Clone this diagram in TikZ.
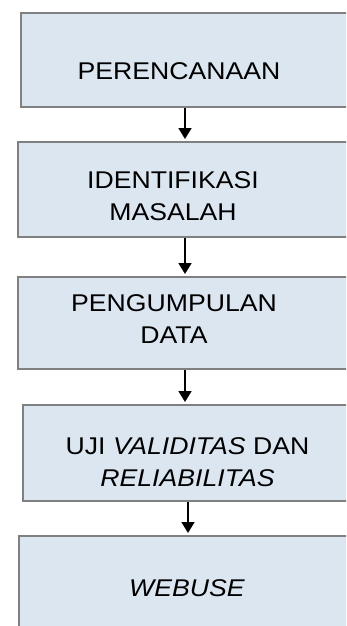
\documentclass[tikz,border=0pt]{standalone}
\usepackage{fontspec}
\setsansfont[FakeStretch=1.1]{Liberation Sans}
\usetikzlibrary{arrows.meta}
\definecolor{boxfill}{HTML}{DCE6F1}
\definecolor{boxline}{HTML}{808080}
\begin{document}
\begin{tikzpicture}[x=1pt,y=-1pt,
  stepbox/.style={draw=boxline, fill=boxfill, line width=2pt, rectangle, inner sep=0pt, anchor=west},
  lbl/.style={font=\sffamily\fontsize{24.2}{32}\selectfont, align=center, inner sep=0pt, text=black},
  arr/.style={draw=black, line width=1.8pt, -{Triangle[width=13pt,length=11pt]}, shorten >=2pt}]
\useasboundingbox (0,0) rectangle (346,626);
\clip (0,0) rectangle (346,626);
% boxes (they run past the right and bottom edges)
\node[stepbox, minimum width=360pt, minimum height=94pt] (b1) at (20,60) {};
\node[stepbox, minimum width=360pt, minimum height=95pt] (b2) at (17,189.5) {};
\node[stepbox, minimum width=360pt, minimum height=92pt] (b3) at (17,323) {};
\node[stepbox, minimum width=360pt, minimum height=96pt] (b4) at (22,453) {};
\node[stepbox, minimum width=360pt, minimum height=104pt] (b5) at (18,588) {};
% arrow axes
\coordinate (ax) at (185,0);
\coordinate (bx) at (188,0);
% labels
\node[lbl] (t1) at (179,71.5) {PERENCANAAN};
\node[lbl] (t2) at (173,196) {IDENTIFIKASI\\MASALAH};
\node[lbl] (t3) at (174,319) {PENGUMPULAN\\DATA};
\node[lbl] (t4) at (187.5,462.5) {UJI \textit{VALIDITAS} DAN\\\textit{RELIABILITAS}};
\node[lbl] (t5) at (187,588) {\textit{WEBUSE}};
% arrows
\draw[arr] (b1.south -| ax) -- (b2.north -| ax);
\draw[arr] (b2.south -| ax) -- (b3.north -| ax);
\draw[arr] (b3.south -| ax) -- (b4.north -| ax);
\draw[arr] (b4.south -| bx) -- (b5.north -| bx);
\end{tikzpicture}
\end{document}
